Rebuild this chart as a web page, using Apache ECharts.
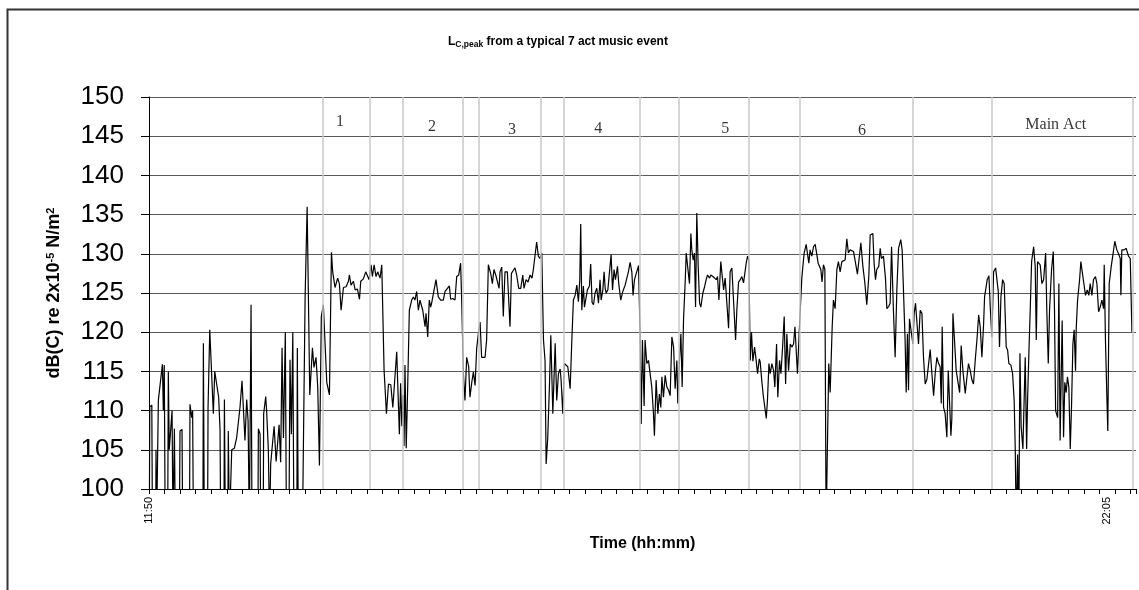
<!DOCTYPE html>
<html>
<head>
<meta charset="utf-8">
<script src="https://cdn.jsdelivr.net/npm/echarts@6/dist/echarts.min.js"></script>
<style>
  html, body { margin: 0; padding: 0; background: #fff; }
  #chart { width: 1139px; height: 590px; }
</style>
</head>
<body>
<div id="chart"></div>
<script>
// minutes after 11:50, L_C,peak in dB(C)
let levelsPreShow = [
  [0.2,95],[0.5,110.5],[1.8,110.7],[2.2,95],[4.3,95],[4.5,105],[4.9,95],[5.3,95],[6.0,111.3],[8.6,115.9],
  [9.2,110],[9.8,115.8],[10.4,95],[12.0,95],[12.4,115],[13.0,105],[13.9,105],[14.8,110],[15.4,95],[16.0,95],
  [16.3,107.7],[16.9,95],[19.5,95],[19.9,107.4],[21.2,107.6],[21.6,95],[26.0,95],[26.3,110.8],[27.4,109.1],[28.0,110],
  [28.5,95],[34.6,95],[34.9,118.6],[35.5,95],[37.6,95],[37.9,110.4],[39.0,120.3],[41.3,109.6],[42.2,115],[44.7,111.7],
  [45.6,107.6],[46.0,95],[48.1,95],[48.4,111.4],[49.0,95],[50.6,95],[50.9,107.4],[51.6,95],[52.8,95],[53.1,105],
  [54.8,105.2],[56.3,106.6],[58.4,110.4],[59.7,113.8],[60.6,113.8],[61.6,106.2],[62.7,111.4],[63.6,108.7],[64.4,95],[65.2,95],
  [65.5,123.5],[66.1,95],[69.9,95],[70.2,107.7],[71.3,107],[71.7,95],[73.3,95],[73.6,109.6],[74.9,111.8],[75.5,110],
  [76.6,105],[77.4,95],[78.1,103.2],[80.3,108],[81.6,103.5],[83.5,108.2],[84.5,103.4]
];
let levelsAct1 = [
  [85.4,118],[86.3,106.5],[87.5,120],[88.2,95],[89.8,95],[90.5,116.5],[91.4,107],[92.3,120],[93.0,95],[94.9,95],
  [95.2,118],[95.8,95],[98.5,95],[100.2,124.5],[101.5,136],[103.2,112],[104.9,118],[105.9,115.5],[107.2,116.8],[108.3,113],
  [109.4,103],[110.6,122],[111.9,123.5],[114.1,113.6],[115.8,112],[117.1,130.2],[117.9,127.7],[119.4,125.7],[121.1,126.9],[122.2,126.2],
  [123.3,122.8],[124.8,125.7],[126.5,125.8],[128,126.5],[128.6,127.3],[129.7,126],[131.2,126.5],[132.3,125.4],[133.8,125.5],[135.1,124.2],
  [135.9,126.5],[137.6,126.8],[139.1,127.7],[140.2,127.5],[141.3,126.7],[142.5,128.6],[143.4,127.1],[144.5,128.6],[145.7,127.1],[146.8,127.7],
  [148.3,126.9],[149.4,128.6],[150.9,115.1],[152.4,109.6],[153.7,113.4],[155.2,113.3],[156.5,110.4],[158,114.7],[159,117.5],[160.7,107],
  [161.5,113.5],[162.3,108],[163.0,112],[163.7,105.5],[164.3,115.8],[165.1,105.2],[166,112.7]
];
let levelsAct2 = [
  [167.1,122.8],[168.6,124.1],[169.7,124.5],[170.7,124.1],[171.8,125.2],[172.9,122.8],[173.9,124.1],[175.7,122.8],[177.2,120.7],[177.8,122.4],
  [178.9,119.4],[179.9,124.1],[180.8,123.2],[181.6,123.9],[182.5,124.1],[184.2,126.7],[185.7,124.5],[187.2,124.1],[188.9,124.1],[190,125.2],
  [191.1,125.2],[192.8,125.9],[193.6,124.2],[194.9,124.3],[196.4,124.1],[197.5,127.1],[198.8,127.3],[200.0,128.8],[200.7,124.1],[201.8,114.7],
  [202.8,111.3],[203.9,116.8],[205.2,115.6],[206.0,111.7],[207.3,113.8],[208.2,114.9],[209.3,113.2],[210.3,117.9],[211.4,119.8],[212.5,121.3],
  [213.5,116.8],[215.7,116.8],[216.7,119]
];
let levelsAct3 = [
  [217.8,128.6],[219.3,127.5],[220.4,126.2],[221.4,128],[222.7,127.2],[223.8,127.2],[224.7,125.6],[225.3,127.7],[226.4,128.3],[227.4,122],
  [228.5,127.7],[230,127.7],[230.9,127.7],[231.7,120.7],[232.6,127.5],[233.9,127.9],[234.9,128.2],[236,127.3],[237.3,125.6],[238.6,125.6],
  [239.9,127.3],[240.7,125.6],[242,126.7],[243.3,126.4],[244.6,127.3],[245.8,126.9],[246.7,128.0],[247.8,128.0],[248.8,131.5],[249.9,129.7],
  [251,129.4],[252.1,130.1],[253.2,119],[254.2,116.4],[254.9,103.2],[255.9,106.4],[257,113],[257.9,119.6],[259.2,109.6],[260.7,118.6],
  [261.7,111.3],[262.8,114.7],[263.9,115.3],[264.5,113.9],[265.6,109.6],[266.6,116],[267.7,116.2],[268.8,115.6],[270.3,112.8],[271.4,119]
];
let levelsAct4 = [
  [272.4,124.1],[273.5,124.7],[274.6,126],[275.6,123.9],[276.5,126.7],[277.1,133.8],[277.8,122.8],[278.8,125.9],[279.5,123.2],[280.6,124.5],
  [281.4,125.4],[282.7,125.9],[283.5,128.7],[284.4,123.8],[285.3,123.5],[286.3,125],[287.4,125.6],[288.5,123.7],[289.5,126.7],[290.2,124.1],
  [291.3,125.4],[292.1,127.7],[292.8,125.6],[293.4,125],[294.5,125.4],[295.5,125.4],[296.6,129.9],[297.5,125.4],[298.5,128],[299.4,126.7],
  [300.7,128.4],[301.5,126.2],[302.8,124.1],[304.1,125.2],[305.6,126],[306.7,126.9],[307.7,127.7],[308.8,128.9],[309.9,127.7],[310.7,124.7],
  [311.6,126.7],[312.7,126.9],[314.2,128.5],[315.2,119.8],[315.9,108.3],[316.7,119],[317.8,110.6],[318.4,119],[319.5,116],[320.6,116.4],
  [321.6,116.3],[322.7,113],[323.8,109.6],[324.4,106.8],[325.5,113.9],[326.6,109.6],[327.6,112.1],[328.5,110.4],[329.2,114.3],[330.2,111.7],
  [331.3,114.5],[332.4,113],[333.5,112.6],[334.5,111.9],[335.6,119.4],[336.7,118.1],[337.7,112.8],[338.8,116.4],[339.4,110.9],[340.5,116.6],
  [341.4,119.8],[342.2,113],[343.1,121.7]
];
let levelsAct5 = [
  [344.2,126.7],[344.8,130.1],[345.9,129.9],[346.9,126.2],[347.8,132.6],[348.4,130.5],[349.3,129.2],[350.1,130.1],[350.8,123.2],[351.6,135.2],
  [352.5,128.4],[353.4,123.7],[354.2,123.2],[355.5,125],[356.6,125.8],[357.6,126.7],[358.5,127.3],[359.8,126.9],[360.6,127.3],[361.9,127.1],
  [362.8,127.2],[364.1,126.7],[364.9,127.1],[365.8,124.1],[367.0,129],[367.7,128.8],[368.8,125.4],[369.8,126.9],[370.9,127.1],[372,120.5],
  [373,127.7],[374.1,128.2],[375.2,128.2],[376.5,119],[377.3,122.8],[378.4,126.4],[379.5,126.7],[380.5,127.1],[381.6,126.3],[382.7,126.2],
  [383.3,128.8],[384.2,129.7],[385,129.2],[385.9,116.4],[386.7,120],[387.6,116.3],[388.7,118.1],[389.7,116.4],[390.6,114.7],[391.7,116.6],
  [392.3,116.2],[393.4,113.6],[394.4,111.7],[396.2,109],[397,111.5],[397.9,116],[398.7,114.7],[399.8,116],[400.9,115.1],[401.7,113],
  [402.8,118.5],[403.6,111.7],[404.7,116.4],[405.6,114.7],[406.6,117.9],[407.7,122],[408.6,113.4],[409.4,119.8],[410.5,115.1],[411.6,118.5],
  [412.6,118.1],[413.7,118.5],[414.6,120.7],[416.2,114.7],[417.5,120.7]
];
let levelsAct6 = [
  [419,126.9],[420.5,130.1],[421.8,131.2],[422.6,131.2],[423.5,128.8],[424.3,130.5],[425.4,129.7],[426.5,130.9],[427.6,131.2],[428.6,131.2],
  [429.5,128.8],[430.3,128.8],[431.2,128],[432,126.4],[432.9,128.6],[433.8,128],[434.4,128],[434.6,95],[435.5,95],[436.3,116],
  [437.2,112.3],[438.5,120.7],[439.3,124.1],[440.4,123],[441.5,128],[442.5,129],[443.6,127.7],[444.7,129],[445.7,128.8],[446.8,129.2],
  [447.9,131.9],[448.9,130.1],[450,130.5],[451.1,130.3],[452.2,130.3],[453.4,130.1],[454.7,127.4],[455.8,129.4],[456.9,131.4],[458.2,128.4],
  [459.4,126.4],[460.7,123.5],[462,127.1],[462.9,132.4],[464.6,132.6],[465.4,128.8],[466.3,126.7],[467.1,128],[468.4,128.4],[469.3,130.7],
  [470.1,129.4],[471.4,129.7],[472.7,126.9],[473.6,123],[474.8,123.3],[475.7,123.7],[476.6,130.9],[477.8,122.8],[478.9,116.8],[480,125.4],
  [481.1,130.7],[482.5,131.8],[483.4,130.5],[484.3,130.3],[485.3,119],[486,112.3],[486.8,119.8],[487.5,112.6],[488.1,121.7],[489.2,121.5],
  [490.3,118.5],[491.1,122.4],[492,123.7],[492.8,121.5],[493.9,118.5],[495,122.8],[496.1,122.4],[497.1,116.8],[498.2,113.4],[499.3,114],
  [500.4,116],[501.4,117.8],[502.5,114.7],[503.6,111.9],[504.6,114.7],[505.7,116.8],[506.8,116],[507.8,115.6],[508.5,110.9],[509.1,120.7],
  [510,110.4],[511,109.6],[512.1,106.6],[513,115.1],[513.8,111.3],[514.7,106.8],[515.3,109],[516,122.4],[517,119],[518.1,115.1],
  [519.2,115.3],[520.3,112.3],[521.3,118.3],[522.4,115.1],[523.9,112.2],[525,114.3],[526,116],[527.1,115.1],[528.2,113.9],[529.2,113.4],
  [530.3,116.4],[531.4,119],[532.5,122.2],[533.5,120.7],[534.6,116.8],[535.7,121.1],[536.3,124.5],[537.2,124.5],[538,126.7],[539.1,127.2],
  [540,123]
];
let levelsMainAct = [
  [541,119.4],[542.1,127.7],[543.4,128.2],[544.2,128.2],[545.1,125.2],[545.9,118.1],[546.8,124.5],[547.9,126.7],[548.9,126.2],[550.2,118.1],
  [551.1,117.7],[551.9,116],[553.2,115.8],[554.3,114.7],[555.3,111.3],[556,105.1],[556.6,95],[557.5,104.4],[558.3,95],[559,117.3],
  [559.8,107.9],[560.9,105.1],[561.8,105.1],[562.4,116.8],[563.3,105.1],[563.9,111.3],[564.8,117.7],[565.6,122.8],[566.5,129],[567.8,130.9],
  [568.8,128.4],[569.5,119],[570.3,129],[571.2,129],[572,128.6],[573.1,126.2],[574.2,126.7],[575.5,130.1],[576.3,122.4],[577.2,116],
  [578,122.8],[579.3,128],[580.4,130.3],[581.2,122.8],[581.9,110],[583.2,109.1],[584,126.2],[584.8,106.2],[586.1,121.5],[587,106.6],
  [587.8,113.6],[588.7,112.3],[589.5,114.3],[590.4,113],[591.3,105.1],[592.1,110.4],[593,118.5],[593.8,120.3],[594.7,115.1],[595.1,120.3],
  [596,124.1],[597.3,126.7],[598.1,129],[599.4,127.1],[601.1,124.7],[602.2,125.4],[603.2,124.7],[604.1,126.2],[605.2,124.7],[606.2,126.7],
  [607.5,127.1],[608.4,126.2],[609.5,122.6],[610.5,123.2],[611.6,124.1],[612.7,123],[613.1,128.6],[613.9,119],[614.8,111.7],[615.4,107.4],
  [616.3,126.2],[617.6,128.4],[618.7,129.9],[619.9,131.6],[621.2,130.5],[622.5,129.9],[623.4,129.4],[623.8,124.7],[624.4,130.5],[625.9,130.5],
  [627.2,130.7],[628.7,129.7],[629.8,129.4],[630.9,120]
];

// set changes (minutes after 11:50)
let actBoundaries = [111.4, 141.9, 162.7, 201.4, 211.4, 251.5, 266.0, 314.8, 340.3, 385, 417.9, 490.5, 541, 631.5];
let actNames = ['1', '2', '3', '4', '5', '6', 'Main Act'];
let actNameTimes = [122.6, 181.7, 233, 288.3, 369.8, 457.7, 582];
let actNameLevels = [146.8, 146.2, 145.8, 145.9, 145.9, 145.7, 146.4];

let tickMinutes = [0, 615];
let tickLabels = ['11:50', '22:05'];

let allLevels = [].concat(levelsPreShow, levelsAct1, levelsAct2, levelsAct3,
    levelsAct4, levelsAct5, levelsAct6, levelsMainAct);

let myChart = echarts.init(document.getElementById('chart'));
let sans = 'Liberation Sans, Arial, sans-serif';
let option;

option = {
    animation: false,
    backgroundColor: '#fff',
    title: {
        text: 'L{sub|C,peak} from a typical 7 act music event',
        left: 443,
        top: 30,
        textStyle: {
            fontFamily: sans, fontSize: 12, fontWeight: 'bold', color: '#000',
            rich: {
                sub: { fontFamily: sans, fontSize: 8.5, fontWeight: 'bold', color: '#000', padding: [5, 0, 0, 0], verticalAlign: 'top' }
            }
        }
    },
    graphic: [{
        type: 'rect',
        shape: { x: 7.5, y: 9.5, width: 1140, height: 600 },
        style: { fill: 'none', stroke: '#333', lineWidth: 2 },
        silent: true
    }],
    grid: { left: 149, right: 3, top: 97, bottom: 101 },
    xAxis: {
        type: 'value',
        min: 0,
        max: 633.5,
        interval: 10,
        axisLine: { lineStyle: { color: '#000', width: 1 } },
        axisTick: { show: true, length: 5, lineStyle: { color: '#000' } },
        axisLabel: {
            customValues: tickMinutes,
            rotate: 90,
            margin: 8,
            fontFamily: sans,
            fontSize: 11,
            color: '#000',
            formatter: function (v) {
                let i = tickMinutes.indexOf(v);
                return i >= 0 ? tickLabels[i] : '';
            }
        },
        splitLine: { show: false },
        name: 'Time (hh:mm)',
        nameLocation: 'middle',
        nameGap: 47,
        nameTextStyle: { fontFamily: sans, fontSize: 16, fontWeight: 'bold', color: '#000' }
    },
    yAxis: {
        type: 'value',
        min: 100,
        max: 150,
        interval: 5,
        axisLine: { show: true, lineStyle: { color: '#000', width: 1 } },
        axisTick: { show: true, length: 8, lineStyle: { color: '#000' } },
        axisLabel: { margin: 25, fontFamily: sans, fontSize: 26, color: '#000' },
        splitLine: { lineStyle: { color: '#595959', width: 1 } },
        name: 'dB(C) re 2x10{sup|-5} N/m{sup|2}',
        nameLocation: 'middle',
        nameRotate: 90,
        nameGap: 86,
        nameTextStyle: {
            fontFamily: sans, fontSize: 18, fontWeight: 'bold', color: '#000',
            padding: [4, 0, 0, 0],
            rich: {
                sup: { fontFamily: sans, fontSize: 11, fontWeight: 'bold', color: '#000', verticalAlign: 'top' }
            }
        }
    },
    series: [
        {
            type: 'scatter',
            z: 1,
            symbolSize: 0,
            silent: true,
            data: actNameTimes.map(function (t, i) { return { value: [t, actNameLevels[i]], name: actNames[i] }; }),
            label: {
                show: true,
                position: 'inside',
                formatter: '{b}',
                fontFamily: 'Liberation Serif, Times New Roman, serif',
                fontSize: 16,
                color: '#000'
            },
            markLine: {
                silent: true,
                symbol: 'none',
                label: { show: false },
                lineStyle: { color: '#c8c8c8', width: 1.5, type: 'solid' },
                data: actBoundaries.map(function (t) { return { xAxis: t }; })
            }
        },
        {
            type: 'line',
            z: 3,
            data: allLevels,
            showSymbol: false,
            clip: true,
            lineStyle: { color: '#000', width: 1.2 },
            itemStyle: { color: '#000' }
        }
    ]
};

option && myChart.setOption(option);
</script>
</body>
</html>
